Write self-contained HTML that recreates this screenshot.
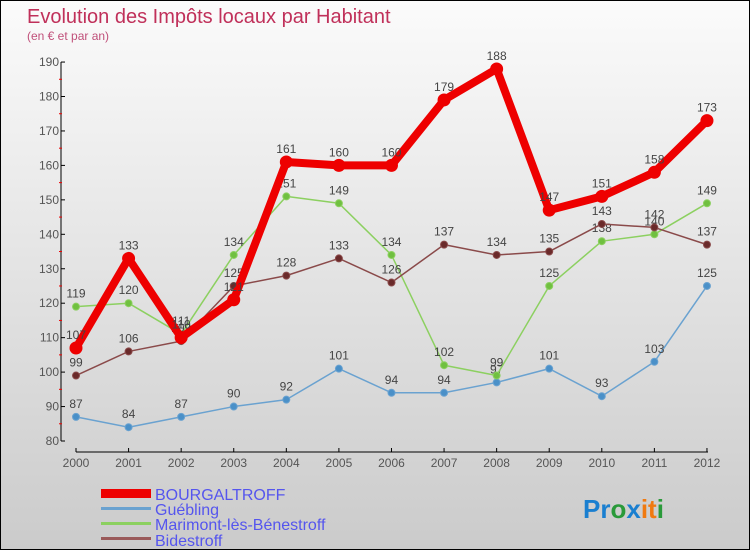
<!DOCTYPE html>
<html><head><meta charset="utf-8"><style>
body{margin:0;width:750px;height:550px;overflow:hidden;font-family:"Liberation Sans",sans-serif}
#wrap{position:relative;width:748px;height:548px;border:1px solid #000;background:linear-gradient(#fbfbfb,#cbcbcb)}
</style></head><body>
<div id="wrap">
<svg id="c" width="748" height="548">
<text x="26" y="22" font-size="20" fill="#c0305a">Evolution des Impôts locaux par Habitant</text>
<text x="26" y="39" font-size="12" fill="#c0507a">(en € et par an)</text>
<g id="axes"></g><g id="series"></g>
<g>
<rect x="100" y="488" width="50" height="9" fill="#e00"/>
<text x="154" y="499" font-size="16" fill="#55e">BOURGALTROFF</text>
<rect x="100" y="506" width="50" height="3" fill="#6aa2d0"/>
<text x="154" y="514" font-size="16" fill="#55e">Guébling</text>
<rect x="100" y="521" width="50" height="3" fill="#8cd060"/>
<text x="154" y="529" font-size="16" fill="#55e">Marimont-lès-Bénestroff</text>
<rect x="100" y="536" width="50" height="3" fill="#9a5a5a"/>
<text x="154" y="545" font-size="16" fill="#55e">Bidestroff</text>
</g>
<text x="582" y="517" font-size="26" font-weight="bold"><tspan fill="#1a7fd0">Pr</tspan><tspan fill="#2a9a3a">o</tspan><tspan fill="#1a7fd0">x</tspan><tspan fill="#f07a10">it</tspan><tspan fill="#2a9a3a">i</tspan></text>
</svg></div>
<script>
const years=[2000,2001,2002,2003,2004,2005,2006,2007,2008,2009,2010,2011,2012];
const bourgaltroff=[107,133,110,121,161,160,160,179,188,147,151,158,173];
const guebling=[87,84,87,90,92,101,94,94,97,101,93,103,125];
const marimont=[119,120,111,134,151,149,134,102,99,125,138,140,149];
const bidestroff=[99,106,109,125,128,133,126,137,134,135,143,142,137];
const yTicks=[80,90,100,110,120,130,140,150,160,170,180,190];
const NS='http://www.w3.org/2000/svg';
const X=i=>75+i*52.58, Y=v=>440-(v-80)*3.445;
function mk(t,a,p){const e=document.createElementNS(NS,t);for(const k in a)e.setAttribute(k,a[k]);p.appendChild(e);return e;}
const ax=document.getElementById('axes');
let l=mk('line',{x1:60,y1:Y(190),x2:60,y2:Y(80),stroke:'#000'},ax);

yTicks.forEach(v=>{mk('line',{x1:60,y1:Y(v),x2:64,y2:Y(v),stroke:'#000'},ax);
 const t=mk('text',{x:58,y:Y(v)+4,'font-size':12,fill:'#555','text-anchor':'end'},ax);t.textContent=v;
 
 if(v<190)mk('line',{x1:58,y1:Y(v+5),x2:61,y2:Y(v+5),stroke:'#e00'},ax);});
l=mk('line',{x1:75,y1:451,x2:707,y2:451,stroke:'#000'},ax);

years.forEach((y,i)=>{mk('line',{x1:X(i),y1:447,x2:X(i),y2:451,stroke:'#000'},ax);
 const t=mk('text',{x:X(i),y:466,'font-size':12,fill:'#555','text-anchor':'middle'},ax);t.textContent=y;
 });
const sg=document.getElementById('series');
function draw(data,color,w,r,name,dot){
 const g=mk('g',{},sg);
 const p=mk('polyline',{points:data.map((v,i)=>X(i)+','+Y(v)).join(' '),fill:'none',stroke:color,'stroke-width':w,'stroke-linejoin':'round'},g);
 
 data.forEach((v,i)=>{const c=mk('circle',{cx:X(i),cy:Y(v),r:r,fill:dot,stroke:color,'stroke-width':1},g);
  
  const t=mk('text',{x:X(i),y:Y(v)-9,'font-size':12,fill:'#444','text-anchor':'middle'},g);t.textContent=v;
  });
}
draw(guebling,'#6aa2d0',1.5,3.5,'guebling','#4a90c8');
draw(marimont,'#8cd060',1.5,3.5,'marimont','#70c040');
draw(bidestroff,'#8a4a4a',1.5,3.5,'bidestroff','#6a2a2a');
draw(bourgaltroff,'#ee0000',8,6,'bourgaltroff','#ee0000');
</script></body></html>
